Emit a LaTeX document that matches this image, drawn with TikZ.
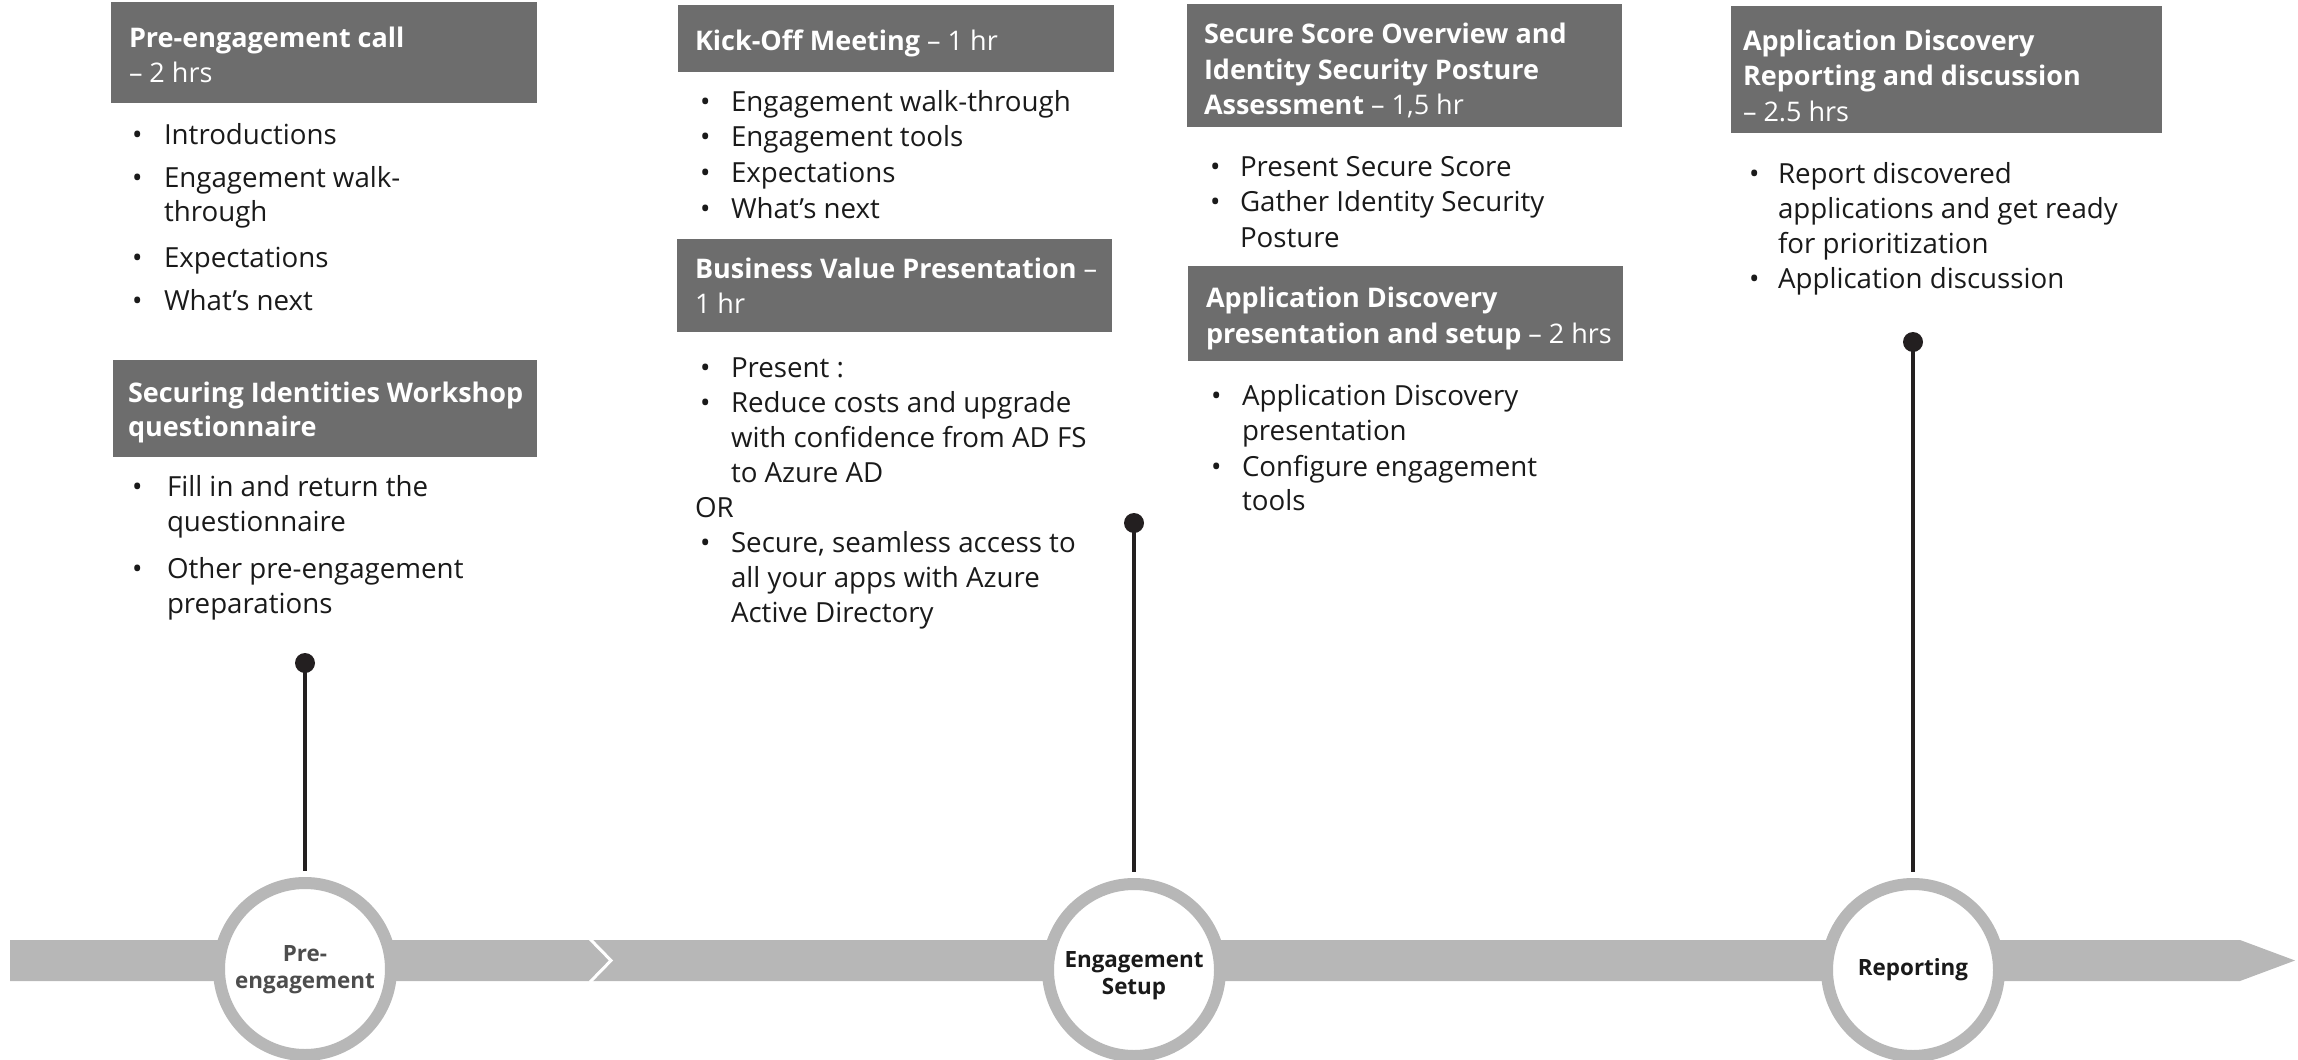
\documentclass[tikz,border=0pt]{standalone}
\usepackage{fontspec}
\setmainfont{Open Sans}
\definecolor{hdrgray}{HTML}{6D6D6D}
\definecolor{bandgray}{HTML}{B7B7B7}
\definecolor{pinc}{HTML}{231F20}
\definecolor{ink}{HTML}{1A1A1A}
\definecolor{preink}{HTML}{4D4D4D}
\begin{document}
\begin{tikzpicture}[x=0.5pt,y=-0.5pt,
  txt/.style={anchor=base west, inner sep=0pt, outer sep=0pt, text=ink, font=\fontsize{13.85}{16}\selectfont},
  htxt/.style={anchor=base west, inner sep=0pt, outer sep=0pt, text=white, font=\fontsize{13.5}{16}\selectfont},
  hdr/.style={fill=hdrgray},
  stage/.style={circle, draw=bandgray, line width=6pt, fill=white, minimum size=86pt, inner sep=0pt},
  stagetxt/.style={inner sep=0pt, align=center, text=ink, font=\bfseries\fontsize{11.2}{13.5}\selectfont},
  pin/.style={circle, fill=pinc, inner sep=0pt, minimum size=10pt},
  pinline/.style={draw=pinc, line width=2pt}]
\useasboundingbox (0,0) rectangle (2298,1060);

% ---------- timeline band ----------
\fill[bandgray] (10,940) -- (2240,940) -- (2295,960.5) -- (2240,981) -- (10,981) -- cycle;
\draw[white, line width=1.5pt] (590,939) -- (611,960.5) -- (590,982);

% ---------- stages ----------
\node[stage] (s1) at (305,969) {};
\node[stage] (s2) at (1134,970) {};
\node[stage] (s3) at (1913,970) {};
\node[stagetxt, text=preink] (s1t) at (305,970) {Pre-\\engagement};
\node[stagetxt] (s2t) at (1134,976) {Engagement\\Setup};
\node[stagetxt] (s3t) at (1913,970) {Reporting};

\node[pin] (p1) at (305,663) {};
\node[pin] (p2) at (1134,523) {};
\node[pin] (p3) at (1913,342) {};
\draw[pinline] (p1.center) -- ([yshift=3pt]s1.north);
\draw[pinline] (p2.center) -- ([yshift=3pt]s2.north);
\draw[pinline] (p3.center) -- ([yshift=3pt]s3.north);

% ---------- column 1 ----------
\fill[hdr] (111,2) rectangle (537,103);
\foreach \yy/\t [count=\i] in {47/{\bfseries Pre-engagement call}, 82/– 2 hrs}
  \node[htxt] (h1a\i) at (129,\yy) {\t};
\foreach \yy/\t [count=\i] in {144/Introductions, 187/Engagement walk-, 221/through, 267/Expectations, 310/What’s next}
  \node[txt] (l1a\i) at (164,\yy) {\t};
\foreach \yy [count=\i] in {144,187,267,310}
  \node[txt] (b1a\i) at (132,\yy) {•};

\fill[hdr] (113,360) rectangle (537,457);
\foreach \yy/\t [count=\i] in {402/{\bfseries Securing Identities Workshop}, 436/{\bfseries questionnaire}}
  \node[htxt] (h1b\i) at (128,\yy) {\t};
\foreach \yy/\t [count=\i] in {496/Fill in and return the, 531/questionnaire, 578/Other pre-engagement, 613/preparations}
  \node[txt] (l1b\i) at (167,\yy) {\t};
\foreach \yy [count=\i] in {496,578}
  \node[txt] (b1b\i) at (132,\yy) {•};

% ---------- column 2 ----------
\fill[hdr] (678,5) rectangle (1114,72);
\node[htxt] (h2a1) at (695,50) {{\bfseries Kick-Off Meeting} – 1 hr};
\foreach \yy/\t [count=\i] in {111/Engagement walk-through, 146/Engagement tools, 182/Expectations, 218/What’s next}
  \node[txt] (l2a\i) at (731,\yy) {\t};
\foreach \yy [count=\i] in {111,146,182,218}
  \node[txt] (b2a\i) at (700,\yy) {•};

\fill[hdr] (677,239) rectangle (1112,332);
\foreach \yy/\t [count=\i] in {278/{{\bfseries Business Value Presentation} –}, 313/1 hr}
  \node[htxt] (h2b\i) at (695,\yy) {\t};
\foreach \yy/\t [count=\i] in {377/Present :, 412/Reduce costs and upgrade, 447/with confidence from AD FS, 482/to Azure AD, 552/{Secure, seamless access to}, 587/all your apps with Azure, 622/Active Directory}
  \node[txt] (l2b\i) at (731,\yy) {\t};
\node[txt] (l2or) at (695,517) {OR};
\foreach \yy [count=\i] in {377,412,552}
  \node[txt] (b2b\i) at (700,\yy) {•};

% ---------- column 3 ----------
\fill[hdr] (1187,4) rectangle (1622,127);
\foreach \yy/\t [count=\i] in {43/{\bfseries Secure Score Overview and}, 79/{\bfseries Identity Security Posture}, 114/{{\bfseries Assessment} – 1,5 hr}}
  \node[htxt] (h3a\i) at (1204,\yy) {\t};
\foreach \yy/\t [count=\i] in {176/Present Secure Score, 211/Gather Identity Security, 247/Posture}
  \node[txt] (l3a\i) at (1240,\yy) {\t};
\foreach \yy [count=\i] in {176,211}
  \node[txt] (b3a\i) at (1210,\yy) {•};

\fill[hdr] (1188,266) rectangle (1623,361);
\foreach \yy/\t [count=\i] in {307/{\bfseries Application Discovery}, 343/{{\bfseries presentation and setup} – 2 hrs}}
  \node[htxt] (h3b\i) at (1206,\yy) {\t};
\foreach \yy/\t [count=\i] in {405/Application Discovery, 440/presentation, 476/Configure engagement, 510/tools}
  \node[txt] (l3b\i) at (1242,\yy) {\t};
\foreach \yy [count=\i] in {405,476}
  \node[txt] (b3b\i) at (1211,\yy) {•};

% ---------- column 4 ----------
\fill[hdr] (1731,6) rectangle (2162,133);
\foreach \yy/\t [count=\i] in {50/{\bfseries Application Discovery}, 85/{\bfseries Reporting and discussion}, 121/– 2.5 hrs}
  \node[htxt] (h4a\i) at (1743,\yy) {\t};
\foreach \yy/\t [count=\i] in {183/Report discovered, 218/applications and get ready, 253/for prioritization, 288/Application discussion}
  \node[txt] (l4a\i) at (1778,\yy) {\t};
\foreach \yy [count=\i] in {183,288}
  \node[txt] (b4a\i) at (1749,\yy) {•};
\end{tikzpicture}
\end{document}
